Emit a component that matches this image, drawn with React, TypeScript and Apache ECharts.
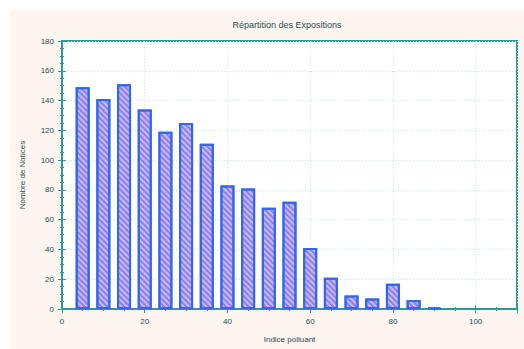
import React, { useEffect, useRef } from "react";
import * as echarts from "echarts";

const titleText = "Répartition des Expositions";
const xName = "Indice polluant";
const yName = "Nombre de Notices";
const binCenters = [5, 10, 15, 20, 25, 30, 35, 40, 45, 50, 55, 60, 65, 70, 75, 80, 85, 90];
const counts = [149, 141, 151, 134, 119, 125, 111, 83, 81, 68, 72, 41, 21, 9, 7, 17, 6, 1];

const frame = "#2a9a98";
const txt = "#1f4d52";

export default function App() {
  const ref = useRef<HTMLDivElement>(null);
  useEffect(() => {
    document.body.style.margin = "0";
    const chart = echarts.init(ref.current!, null, { renderer: "svg" });
    const data = binCenters.map((c, i) => [c, counts[i]]);
    const axisCommon = {
      axisLine: { show: true, lineStyle: { color: frame, width: 2 } },
      axisTick: { show: true, inside: true, length: 4, lineStyle: { color: frame } },
      minorTick: { show: true, splitNumber: 4, length: 2, lineStyle: { color: frame } },
    };
    chart.setOption({
      animation: false,
      backgroundColor: "#ffffff",
      graphic: [
        { type: "rect", left: 10, top: 10, shape: { width: 514, height: 339 }, style: { fill: "#fef5f0" }, z: -10 },
      ],
      title: {
        text: titleText,
        left: 282,
        top: 15,
        textAlign: "center",
        textStyle: { fontSize: 9, fontWeight: "normal", color: txt, fontFamily: "Liberation Sans" },
      },
      grid: {
        left: 62, right: 7, top: 41, bottom: 40,
        show: true, backgroundColor: "#ffffff", borderColor: frame, borderWidth: 2,
      },
      xAxis: [
        {
          type: "value", min: 0, max: 110, interval: 20,
          name: xName, nameLocation: "middle", nameGap: 26,
          nameTextStyle: { fontSize: 8, color: txt, fontFamily: "Liberation Sans" },
          axisLabel: {
            fontSize: 8, color: txt, fontFamily: "Liberation Sans", margin: 8,
            formatter: (v: number) => (v > 100 ? "" : String(v)),
          },
          splitLine: { show: true, lineStyle: { color: "#c8e4e0", type: [1, 2] } },
          ...axisCommon,
        },
        {
          type: "value", position: "top", min: 0, max: 110, interval: 20,
          axisLabel: { show: false }, splitLine: { show: false },
          ...axisCommon,
        },
      ],
      yAxis: [
        {
          type: "value", min: 0, max: 180, interval: 20,
          name: yName, nameLocation: "middle", nameGap: 36,
          nameTextStyle: { fontSize: 8, color: txt, fontFamily: "Liberation Sans" },
          axisLabel: { fontSize: 8, color: txt, fontFamily: "Liberation Sans", margin: 8 },
          splitLine: { show: true, lineStyle: { color: "#c8e4e0", type: [1, 2] } },
          ...axisCommon,
        },
        {
          type: "value", position: "right", min: 0, max: 180, interval: 20,
          axisLabel: { show: false }, splitLine: { show: false },
          ...axisCommon,
        },
      ],
      series: [
        {
          type: "bar",
          xAxisIndex: 0,
          yAxisIndex: 0,
          data,
          barWidth: 14,
          itemStyle: {
            color: "#d2b4f4",
            borderColor: "#3366ee",
            borderWidth: 2,
            decal: {
              symbol: "rect",
              symbolSize: 1,
              rotation: Math.PI / 4,
              dashArrayX: [[1, 0]],
              dashArrayY: [2, 2],
              color: "rgba(80,100,235,0.6)",
            },
          },
        },
      ],
    });
    return () => chart.dispose();
  }, []);
  return <div ref={ref} style={{ position: "absolute", left: 0, top: 0, width: 524, height: 349 }} />;
}
